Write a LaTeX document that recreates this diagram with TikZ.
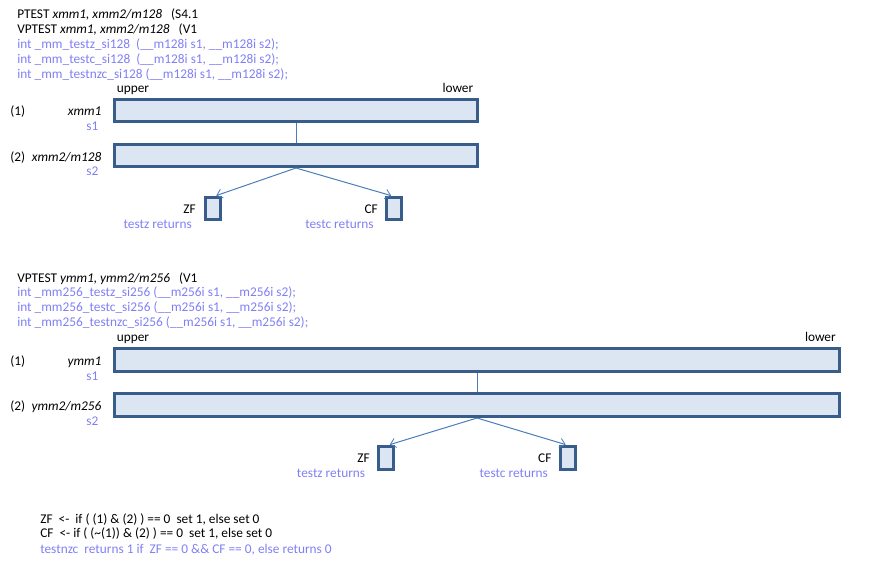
\documentclass[tikz,border=0pt]{standalone}
\usepackage{fontspec}
\setmainfont{Carlito}
\usetikzlibrary{arrows.meta}
\definecolor{boxedge}{HTML}{385D8A}
\definecolor{boxfill}{HTML}{DCE6F2}
\definecolor{conn}{HTML}{4A7EBB}
\definecolor{codeblue}{RGB}{128,128,245}
\tikzset{
  reg/.style={draw=boxedge, fill=boxfill, line width=2.25pt, rectangle, inner sep=0pt},
  flagbox/.style={reg, minimum width=15*0.75pt, minimum height=22*0.75pt},
  txt/.style={inner sep=0pt, font=\fontsize{10pt}{12pt}\selectfont, text=black},
  code/.style={txt, text=codeblue},
  tl/.style={anchor=base west},
  tr/.style={anchor=base east},
  link/.style={draw=conn, line width=0.75pt},
  arr/.style={link, -{Straight Barb[length=4pt, width=7pt, line width=0.6pt]}, shorten >=1pt}
}
\begin{document}
\begin{tikzpicture}[x=0.75pt, y=-0.75pt]
\useasboundingbox (0,0) rectangle (892,565);

% ---------- Section 1 ----------
\node[txt, tl] (h1) at (17,18) {PTEST \textit{xmm1, xmm2/m128}\ \ \ (S4.1};
\node[txt, tl] (h2) at (17,33) {VPTEST \textit{xmm1, xmm2/m128}\ \ \ (V1};
\node[code, tl] (c1) at (17,48) {int \_mm\_testz\_si128\ \ (\_\_m128i s1, \_\_m128i s2);};
\node[code, tl] (c2) at (17,63) {int \_mm\_testc\_si128\ \ (\_\_m128i s1, \_\_m128i s2);};
\node[code, tl] (c3) at (17,78) {int \_mm\_testnzc\_si128 (\_\_m128i s1, \_\_m128i s2);};

\node[txt, tl] (up1) at (116.5,92.5) {upper};
\node[txt, tr] (lo1) at (473.5,92.5) {lower};

\node[reg, minimum width=363*0.75pt, minimum height=21.5*0.75pt] (a1) at (296,110.25) {};
\node[reg, minimum width=363*0.75pt, minimum height=22*0.75pt] (a2) at (296,155.5) {};

\node[txt, tl] (n1a) at (10,115) {(1)};
\node[txt, tr] (r1a) at (101.7,115) {\textit{xmm1}};
\node[code, tr] (s1a) at (98.7,130) {s1};
\node[txt, tl] (n2a) at (10,161) {(2)};
\node[txt, tr] (r2a) at (101.7,161) {\textit{xmm2/m128}};
\node[code, tr] (s2a) at (98.7,175.5) {s2};

\node[flagbox] (zfa) at (212.5,208.5) {};
\node[flagbox] (cfa) at (393.5,208.5) {};
\node[txt, tr] (zfla) at (196,213) {ZF};
\node[txt, tr] (cfla) at (378,213) {CF};
\node[code, tl] (tza) at (123.3,228.5) {testz returns};
\node[code, tl] (tca) at (305,228.5) {testc returns};

\draw[link] (a1.south) -- (a2.north);
\draw[arr] (a2.south) -- ([xshift=2.5*0.75pt]zfa.north);
\draw[arr] (a2.south) -- ([xshift=-1*0.75pt]cfa.north);

% ---------- Section 2 ----------
\node[txt, tl] (h3) at (17,282) {VPTEST \textit{ymm1, ymm2/m256}\ \ \ (V1};
\node[code, tl] (c4) at (17,296.7) {int \_mm256\_testz\_si256 (\_\_m256i s1, \_\_m256i s2);};
\node[code, tl] (c5) at (17,311.7) {int \_mm256\_testc\_si256 (\_\_m256i s1, \_\_m256i s2);};
\node[code, tl] (c6) at (17,326.7) {int \_mm256\_testnzc\_si256 (\_\_m256i s1, \_\_m256i s2);};

\node[txt, tl] (up2) at (116.5,341.7) {upper};
\node[txt, tr] (lo2) at (836,341.7) {lower};

\node[reg, minimum width=725*0.75pt, minimum height=22.5*0.75pt] (b1) at (477,359.75) {};
\node[reg, minimum width=725*0.75pt, minimum height=23*0.75pt] (b2) at (477,405) {};

\node[txt, tl] (n1b) at (10,365) {(1)};
\node[txt, tr] (r1b) at (101.7,365) {\textit{ymm1}};
\node[code, tr] (s1b) at (98.7,380) {s1};
\node[txt, tl] (n2b) at (10,410) {(2)};
\node[txt, tr] (r2b) at (101.7,410) {\textit{ymm2/m256}};
\node[code, tr] (s2b) at (98.7,425) {s2};

\node[flagbox, minimum height=23*0.75pt] (zfb) at (386,458) {};
\node[flagbox, minimum height=23*0.75pt] (cfb) at (568,458) {};
\node[txt, tr] (zflb) at (370,462.7) {ZF};
\node[txt, tr] (cflb) at (551.7,462.7) {CF};
\node[code, tl] (tzb) at (296.7,477) {testz returns};
\node[code, tl] (tcb) at (479.3,477) {testc returns};

\draw[link] (b1.south) -- (b2.north);
\draw[arr] (b2.south) -- ([xshift=2.5*0.75pt]zfb.north);
\draw[arr] (b2.south) -- ([xshift=-1*0.75pt]cfb.north);

% ---------- Bottom notes ----------
\node[txt, tl] (f1) at (40,523) {ZF\ \ <-\ \ if ( (1) \& (2) ) == 0\ \ set 1, else set 0};
\node[txt, tl] (f2) at (40,537.7) {CF\ \ <- if ( (\textasciitilde(1)) \& (2) ) == 0\ \ set 1, else set 0};
\node[code, tl] (f3) at (40,553) {testnzc\ \ returns 1 if\ \ ZF == 0 \&\& CF == 0, else returns 0};
\end{tikzpicture}
\end{document}
